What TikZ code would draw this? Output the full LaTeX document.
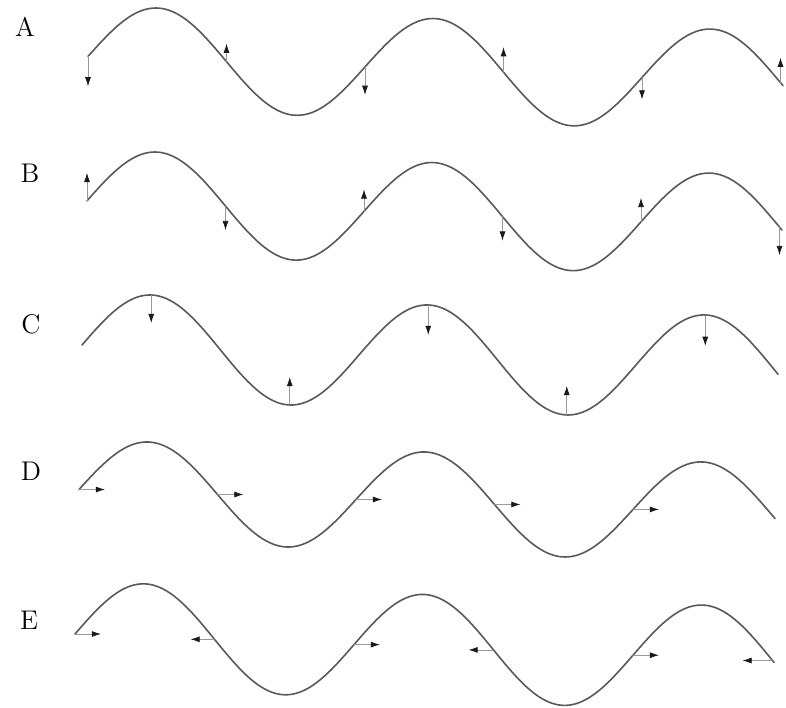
\documentclass[tikz,border=0pt]{standalone}
\usetikzlibrary{arrows.meta}
\begin{document}
\begin{tikzpicture}[x=0.5pt, y=-0.5pt, line cap=round, line join=round,
    declare function={
      wa(\t)=56.4+0.038*(\t-88)-51*sin(((\t-88)/277)*360);
      wb(\t)=200.8+0.038*(\t-87)-51.4*sin(((\t-87)/277)*360);
      wc(\t)=345+0.036*(\t-82)-52.5*sin(((\t-82)/277)*360);
      wd(\t)=489.5+0.036*(\t-79)-50*sin(((\t-79)/277)*360);
      we(\t)=634+0.038*(\t-75)-52.8*sin(((\t-75)/279)*360);},
    wave/.style={line width=0.8pt, draw=black!65},
    vel/.style={line width=0.4pt, draw=black!40, -{Latex[length=4.6pt,width=3pt,color=black!90]}},
    tag/.style={inner sep=0pt, font=\fontsize{13.5}{16}\selectfont}]
  \useasboundingbox (0,0) rectangle (786,707);
  % labels
  \node[tag] (la) at (25,27) {A};
  \node[tag] (lb) at (30,173) {B};
  \node[tag] (lc) at (31,324) {C};
  \node[tag] (ld) at (31,471) {D};
  \node[tag] (le) at (29,620) {E};
  % waves
  \draw[wave] plot[domain=88:783, samples=140, smooth] (\x,{wa(\x)});
  \draw[wave] plot[domain=87:782, samples=140, smooth] (\x,{wb(\x)});
  \draw[wave] plot[domain=82:778, samples=140, smooth] (\x,{wc(\x)});
  \draw[wave] plot[domain=79:775, samples=140, smooth] (\x,{wd(\x)});
  \draw[wave] plot[domain=75:774, samples=140, smooth] (\x,{we(\x)});
  % A
  \coordinate (a1) at (88,{wa(88)});       \coordinate (a1t) at (88,{wa(88)+30});
  \coordinate (a2) at (226.5,{wa(226.5)}); \coordinate (a2t) at (226.5,{wa(226.5)-18});
  \coordinate (a3) at (365,{wa(365)});     \coordinate (a3t) at (365,{wa(365)+28});
  \coordinate (a4) at (503.5,{wa(503.5)}); \coordinate (a4t) at (503.5,{wa(503.5)-25});
  \coordinate (a5) at (642,{wa(642)});     \coordinate (a5t) at (642,{wa(642)+22});
  \coordinate (a6) at (780.5,{wa(780.5)}); \coordinate (a6t) at (780.5,{wa(780.5)-25});
  \draw[vel] (a1) -- (a1t);
  \draw[vel] (a2) -- (a2t);
  \draw[vel] (a3) -- (a3t);
  \draw[vel] (a4) -- (a4t);
  \draw[vel] (a5) -- (a5t);
  \draw[vel] (a6) -- (a6t);
  % B
  \coordinate (b1) at (87,{wb(87)});       \coordinate (b1t) at (87,{wb(87)-28});
  \coordinate (b2) at (225.5,{wb(225.5)}); \coordinate (b2t) at (225.5,{wb(225.5)+24});
  \coordinate (b3) at (364,{wb(364)});     \coordinate (b3t) at (364,{wb(364)-22});
  \coordinate (b4) at (502.5,{wb(502.5)}); \coordinate (b4t) at (502.5,{wb(502.5)+24});
  \coordinate (b5) at (641,{wb(641)});     \coordinate (b5t) at (641,{wb(641)-24});
  \coordinate (b6) at (779.5,{wb(779.5)}); \coordinate (b6t) at (779.5,{wb(779.5)+28});
  \draw[vel] (b1) -- (b1t);
  \draw[vel] (b2) -- (b2t);
  \draw[vel] (b3) -- (b3t);
  \draw[vel] (b4) -- (b4t);
  \draw[vel] (b5) -- (b5t);
  \draw[vel] (b6) -- (b6t);
  % C
  \coordinate (c1) at (151.25,{wc(151.25)}); \coordinate (c1t) at (151.25,{wc(151.25)+28});
  \coordinate (c2) at (289.75,{wc(289.75)}); \coordinate (c2t) at (289.75,{wc(289.75)-28});
  \coordinate (c3) at (428.25,{wc(428.25)}); \coordinate (c3t) at (428.25,{wc(428.25)+30});
  \coordinate (c4) at (566.75,{wc(566.75)}); \coordinate (c4t) at (566.75,{wc(566.75)-29});
  \coordinate (c5) at (705.25,{wc(705.25)}); \coordinate (c5t) at (705.25,{wc(705.25)+31});
  \draw[vel] (c1) -- (c1t);
  \draw[vel] (c2) -- (c2t);
  \draw[vel] (c3) -- (c3t);
  \draw[vel] (c4) -- (c4t);
  \draw[vel] (c5) -- (c5t);
  % D
  \coordinate (d1) at (79,{wd(79)});       \coordinate (d1t) at (105,{wd(79)});
  \coordinate (d2) at (217.5,{wd(217.5)}); \coordinate (d2t) at (243.5,{wd(217.5)});
  \coordinate (d3) at (356,{wd(356)});     \coordinate (d3t) at (382,{wd(356)});
  \coordinate (d4) at (494.5,{wd(494.5)}); \coordinate (d4t) at (520.5,{wd(494.5)});
  \coordinate (d5) at (633,{wd(633)});     \coordinate (d5t) at (659,{wd(633)});
  \draw[vel] (d1) -- (d1t);
  \draw[vel] (d2) -- (d2t);
  \draw[vel] (d3) -- (d3t);
  \draw[vel] (d4) -- (d4t);
  \draw[vel] (d5) -- (d5t);
  % E
  \coordinate (e1) at (75,{we(75)});       \coordinate (e1t) at (101,{we(75)});
  \coordinate (e2) at (214.5,{we(214.5)}); \coordinate (e2t) at (190.5,{we(214.5)});
  \coordinate (e3) at (354,{we(354)});     \coordinate (e3t) at (380,{we(354)});
  \coordinate (e4) at (493.5,{we(493.5)}); \coordinate (e4t) at (468.5,{we(493.5)});
  \coordinate (e5) at (633,{we(633)});     \coordinate (e5t) at (659,{we(633)});
  \coordinate (e6) at (772.5,{we(772.5)}); \coordinate (e6t) at (742.5,{we(772.5)});
  \draw[vel] (e1) -- (e1t);
  \draw[vel] (e2) -- (e2t);
  \draw[vel] (e3) -- (e3t);
  \draw[vel] (e4) -- (e4t);
  \draw[vel] (e5) -- (e5t);
  \draw[vel] (e6) -- (e6t);
\end{tikzpicture}
\end{document}
